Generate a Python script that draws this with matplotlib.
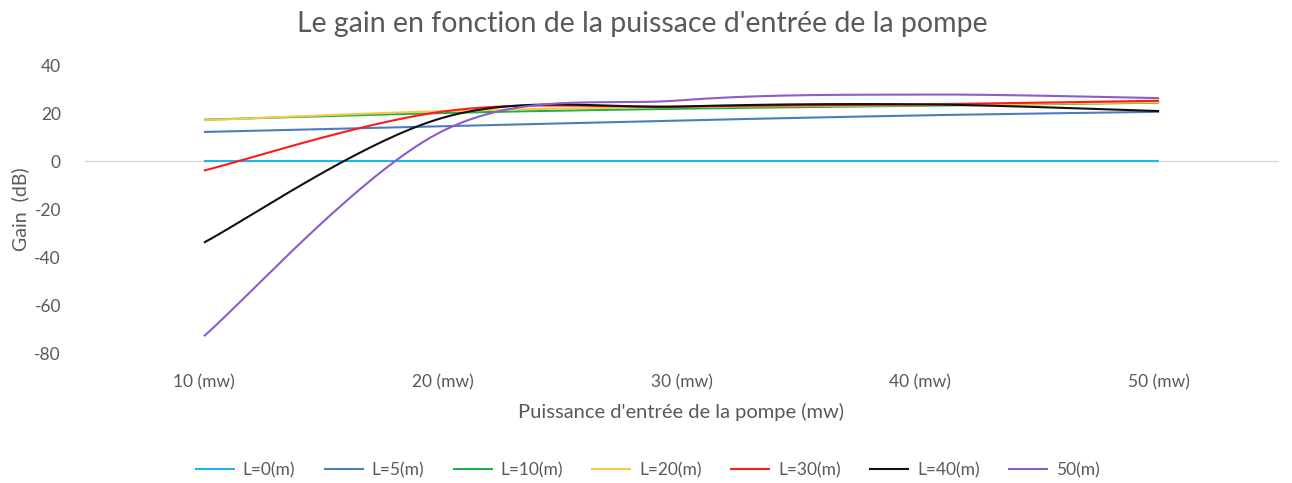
import numpy as np
import matplotlib.pyplot as plt

plt.rcParams['font.family'] = ['Lato', 'DejaVu Sans']
plt.rcParams['axes.unicode_minus'] = False

categories = ['10 (mw)', '20 (mw)', '30 (mw)', '40 (mw)', '50 (mw)']

gain_l0 = [0, 0, 0, 0, 0]
gain_l5 = [12.1, 14.5, 16.9, 19.0, 20.5]
gain_l10 = [17.2, 20.0, 21.8, 23.0, 24.3]
gain_l20 = [17.0, 20.8, 22.5, 23.3, 24.5]
gain_l30 = [-4.0, 20.6, 22.7, 23.6, 25.1]
gain_l40 = [-34.0, 18.0, 22.7, 23.6, 20.8]
gain_l50 = [-73.0, 12.5, 25.3, 27.7, 26.2]

series_names = ['L=0(m)', 'L=5(m)', 'L=10(m)', 'L=20(m)', 'L=30(m)', 'L=40(m)', '50(m)']
series_colors = ['#1fb4f0', '#4a7dc0', '#1cb04f', '#f7c948', '#ff1a1a', '#111111', '#8e5cc8']


def smooth_line(xs, ys, steps=40):
    # Catmull-Rom spline through the points (same look as a smoothed office chart line)
    xs = np.asarray(xs, dtype=float)
    ys = np.asarray(ys, dtype=float)
    px = np.concatenate([[xs[0]], xs, [xs[-1]]])
    py = np.concatenate([[ys[0]], ys, [ys[-1]]])
    out_x, out_y = [], []
    for i in range(1, len(px) - 2):
        t = np.linspace(0, 1, steps)
        for p, out in ((px, out_x), (py, out_y)):
            p0, p1, p2, p3 = p[i - 1], p[i], p[i + 1], p[i + 2]
            c1 = p1 + (p2 - p0) / 6
            c2 = p2 - (p3 - p1) / 6
            out.extend((1 - t) ** 3 * p1 + 3 * (1 - t) ** 2 * t * c1
                       + 3 * (1 - t) * t ** 2 * c2 + t ** 3 * p2)
    return np.array(out_x), np.array(out_y)


fig = plt.figure(figsize=(12.92, 4.83), dpi=100)
ax = fig.add_axes([84.5 / 1292, 1 - 353 / 483, (1278.5 - 84.5) / 1292, 288 / 483])

x = np.arange(len(categories))
all_series = [gain_l0, gain_l5, gain_l10, gain_l20, gain_l30, gain_l40, gain_l50]
for name, color, values in zip(series_names, series_colors, all_series):
    sx, sy = smooth_line(x, values)
    ax.plot(sx, sy, color=color, lw=1.5, label=name, solid_capstyle='butt')

ax.axhline(0, color='#d9d9d9', lw=1, zorder=0)

ax.set_xlim(-0.5, len(categories) - 0.5)
ax.set_ylim(-80, 40)
ax.set_yticks(range(-80, 41, 20))
ax.set_xticks(x)
ax.set_xticklabels(categories)
for side in ax.spines.values():
    side.set_visible(False)
ax.tick_params(axis='both', length=0, labelsize=12.5, labelcolor='#595959')
ax.tick_params(axis='x', pad=15)
ax.tick_params(axis='y', pad=17)

ax.set_xlabel("Puissance d'entrée de la pompe (mw)", fontsize=14.5, color='#595959', labelpad=9)
ax.set_ylabel('Gain  (dB)', fontsize=14, color='#595959', labelpad=4)
fig.text(0.497, 1 - 24 / 483, "Le gain en fonction de la puissace d'entrée de la pompe",
         ha='center', va='center', fontsize=20.5, color='#595959')

fig.legend(loc='center', bbox_to_anchor=(0.501, 1 - 470 / 483), ncol=7, frameon=False,
           fontsize=12.5, labelcolor='#595959', handlelength=2.3, columnspacing=1.65,
           handletextpad=0.45)

fig.savefig('out.png', dpi=100)
